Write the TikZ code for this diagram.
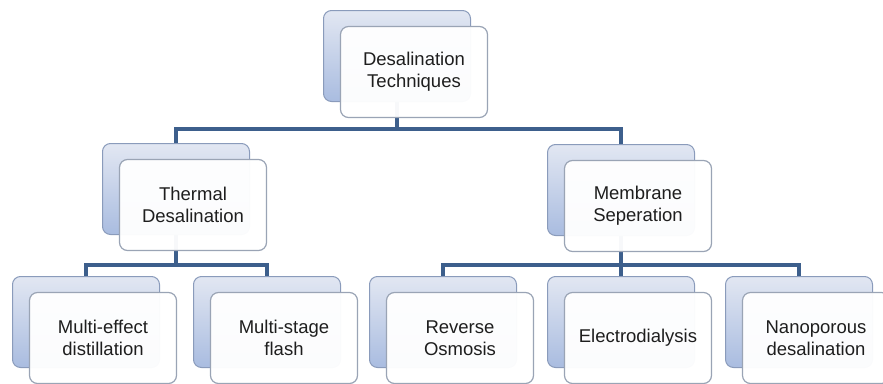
\documentclass[tikz,border=0pt]{standalone}
\usepackage{fontspec}
\setmainfont{Liberation Sans}
\usetikzlibrary{backgrounds}

\definecolor{linkblue}{HTML}{3D5F8C}
\definecolor{backedge}{HTML}{8A9BBB}
\definecolor{backtop}{HTML}{E2E7F2}
\definecolor{backbot}{HTML}{A9BCE0}
\definecolor{frontedge}{HTML}{9AA4B5}
\definecolor{txt}{HTML}{1E1E1E}

\tikzset{
  backbox/.style={rectangle, rounded corners=8pt, draw=backedge, line width=1pt,
    top color=backtop, bottom color=backbot, minimum width=147pt, minimum height=91pt},
  frontbox/.style={rectangle, rounded corners=8pt, draw=frontedge, line width=1.2pt,
    fill=white, fill opacity=.96, text opacity=1, text=txt, align=center,
    font=\fontsize{18.5}{22}\selectfont, minimum width=147pt, minimum height=91pt},
  link/.style={draw=linkblue, line width=4pt}
}

\begin{document}
\begin{tikzpicture}
	[x=1pt,y=-1pt]
	\clip (0,0) rectangle (883,383);
	% back boxes
	\node[backbox] (topB) at (397,56) {};
	\node[backbox] (thermB) at (176,189) {};
	\node[backbox] (membB) at (621,190) {};
	\node[backbox] (medB) at (86,322) {};
	\node[backbox] (msfB) at (267,322) {};
	\node[backbox] (roB) at (443,322) {};
	\node[backbox] (edB) at (621,322) {};
	\node[backbox] (npB) at (799,322) {};
	% front boxes
	\node[frontbox] (topF) at ([shift={(17,16)}]topB) {Desalination\\Techniques};
	\node[frontbox] (thermF) at ([shift={(17,16)}]thermB) {Thermal\\Desalination};
	\node[frontbox] (membF) at ([shift={(17,16)}]membB) {Membrane\\Seperation};
	\node[frontbox] (medF) at ([shift={(17,16)}]medB) {Multi-effect\\distillation};
	\node[frontbox] (msfF) at ([shift={(17,16)}]msfB) {Multi-stage\\flash};
	\node[frontbox] (roF) at ([shift={(17,16)}]roB) {Reverse\\Osmosis};
	\node[frontbox] (edF) at ([shift={(17,16)}]edB) {Electrodialysis};
	\node[frontbox] (npF) at ([shift={(17,16)}]npB) {Nanoporous\\desalination};
	
	\coordinate (row1) at (0,129);
	\coordinate (row2) at (0,265);
	\begin{scope}[on background layer]
	\foreach \up/\kid/\row in {topB/thermB/row1,topB/membB/row1,thermB/medB/row2,thermB/msfB/row2,membB/roB/row2,membB/edB/row2,membB/npB/row2}
	\draw[link] (\up.south) -- (\up.south |- \row) -| (\kid.north);
	\end{scope}
\end{tikzpicture}
\end{document}
